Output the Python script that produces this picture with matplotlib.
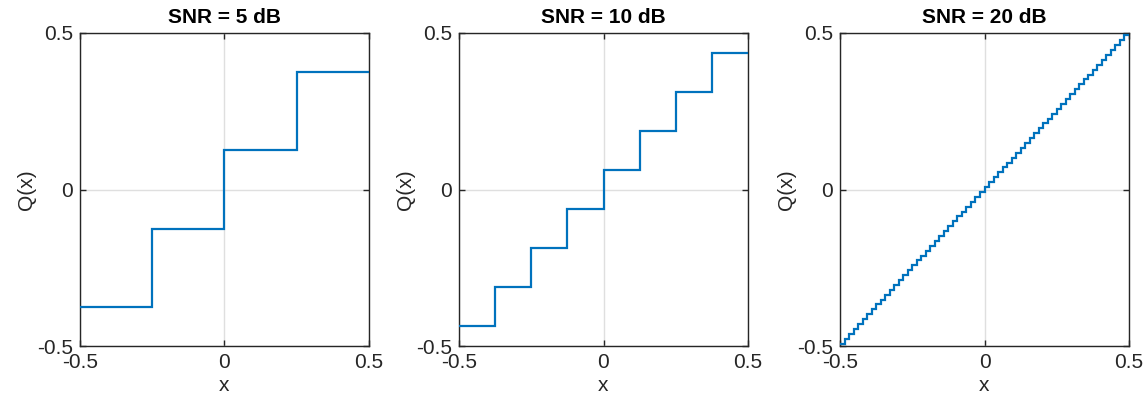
import matplotlib
matplotlib.use("Agg")
import matplotlib.pyplot as plt
import numpy as np

plt.rcParams['font.family'] = ['Liberation Sans', 'DejaVu Sans']

titles = ['SNR = 5 dB', 'SNR = 10 dB', 'SNR = 20 dB']

# step edges and output levels
edges_5 = [-0.5, -0.25, 0.0, 0.25, 0.5]
levels_5 = [-0.375, -0.125, 0.125, 0.375]

edges_10 = [-0.5, -0.375, -0.25, -0.125, 0.0, 0.125, 0.25, 0.375, 0.5]
levels_10 = [-0.4375, -0.3125, -0.1875, -0.0625, 0.0625, 0.1875, 0.3125, 0.4375]

# 20 dB: 64 small steps, edges in 1/64 units, levels in 1/128 units
edges_20 = np.array([-32, -31, -30, -29, -28, -27, -26, -25, -24, -23, -22,
                     -21, -20, -19, -18, -17, -16, -15, -14, -13, -12, -11,
                     -10, -9, -8, -7, -6, -5, -4, -3, -2, -1, 0, 1, 2, 3, 4,
                     5, 6, 7, 8, 9, 10, 11, 12, 13, 14, 15, 16, 17, 18, 19,
                     20, 21, 22, 23, 24, 25, 26, 27, 28, 29, 30, 31, 32]) / 64
levels_20 = np.array([-63, -61, -59, -57, -55, -53, -51, -49, -47, -45, -43,
                      -41, -39, -37, -35, -33, -31, -29, -27, -25, -23, -21,
                      -19, -17, -15, -13, -11, -9, -7, -5, -3, -1, 1, 3, 5,
                      7, 9, 11, 13, 15, 17, 19, 21, 23, 25, 27, 29, 31, 33,
                      35, 37, 39, 41, 43, 45, 47, 49, 51, 53, 55, 57, 59, 61,
                      63]) / 128

all_edges = [edges_5, edges_10, edges_20]
all_levels = [levels_5, levels_10, levels_20]

ticks = [-0.5, 0, 0.5]
tick_labels = ['-0.5', '0', '0.5']

W, H = 1148, 398
fig = plt.figure(figsize=(W / 100, H / 100), dpi=100)
lefts = [80, 459, 840]

for i in range(3):
    ax = fig.add_axes([lefts[i] / W, 52 / H, 289 / W, 313 / H])
    ax.stairs(all_levels[i], all_edges[i], baseline=None,
              color='#0072BD', linewidth=1.6, zorder=3)
    ax.set_xlim(-0.5, 0.5)
    ax.set_ylim(-0.5, 0.5)
    ax.set_xticks(ticks)
    ax.set_xticklabels(tick_labels)
    ax.set_yticks(ticks)
    ax.set_yticklabels(tick_labels)
    ax.grid(True, color='#DFDFDF', linewidth=1.0, zorder=0)
    ax.tick_params(direction='in', top=True, right=True, length=4,
                   width=1.0, color='#262626', labelsize=15,
                   labelcolor='#262626', pad=5)
    for s in ax.spines.values():
        s.set_color('#262626')
        s.set_linewidth(1.0)
    ax.set_title(titles[i], fontsize=15, fontweight='bold', pad=7)
    ax.set_xlabel('x', fontsize=15, color='#262626', labelpad=3)
    ax.set_ylabel('Q(x)', fontsize=15, color='#262626', labelpad=1)

fig.savefig('out.png', dpi=100)
